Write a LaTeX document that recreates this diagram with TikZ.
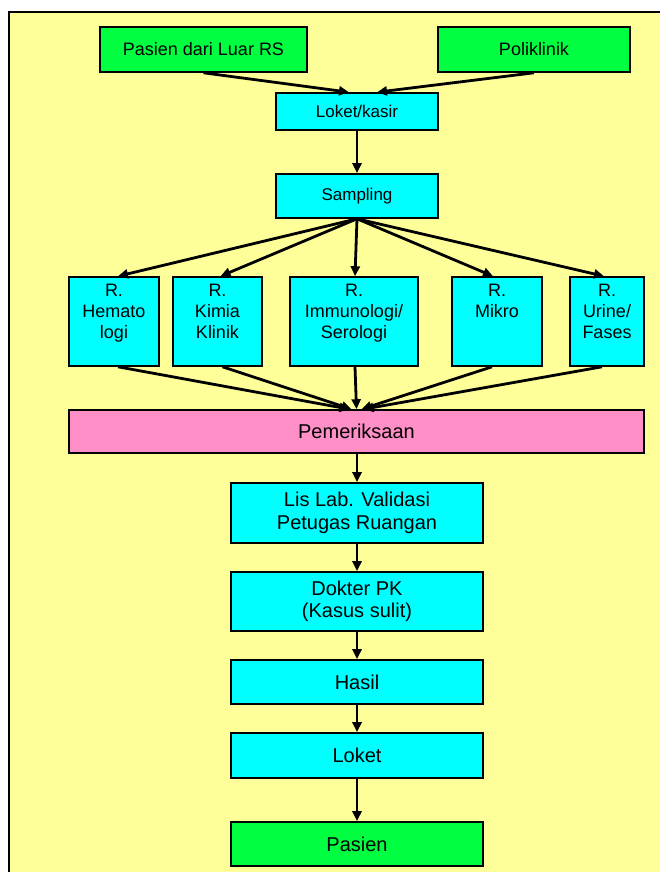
\documentclass[tikz,border=0pt]{standalone}
\usepackage{fontspec}
\setmainfont{Liberation Sans}
\usetikzlibrary{arrows.meta}
\definecolor{bgyel}{RGB}{255,255,153}
\definecolor{boxgreen}{RGB}{0,255,64}
\definecolor{boxcyan}{RGB}{0,255,255}
\definecolor{boxpink}{RGB}{255,143,199}
\begin{document}
\begin{tikzpicture}[x=1pt,y=-1pt,
  basebox/.style={draw=black, line width=1.6pt, inner sep=0pt, align=center},
  gbox/.style={basebox, fill=boxgreen},
  cbox/.style={basebox, fill=boxcyan},
  pbox/.style={basebox, fill=boxpink},
  smalltxt/.style={font=\fontsize{18}{21}\selectfont},
  midtxt/.style={font=\fontsize{17}{20}\selectfont},
  bigtxt/.style={font=\fontsize{20}{22.5}\selectfont},
  txt/.style={inner sep=0pt, align=center},
  flow/.style={line width=2.8pt, -{Triangle[length=10pt,width=9pt]}}]
\useasboundingbox (0,0) rectangle (660,872);
\fill[white] (0,0) rectangle (660,872);
\draw[fill=bgyel, line width=1.5pt] (9,12) rectangle (664,876);

% top sources
\node[gbox, smalltxt, minimum width=207, minimum height=45] (src1) at (203.5,49.5) {Pasien dari Luar RS};
\node[gbox, smalltxt, minimum width=192, minimum height=45] (src2) at (534,49.5) {Poliklinik};
\node[cbox, midtxt, minimum width=162, minimum height=37] (kasir) at (357,111.5) {Loket/kasir};
\node[cbox, midtxt, minimum width=162, minimum height=44] (samp) at (357,196) {Sampling};

% lab rooms
\node[cbox, minimum width=90, minimum height=89] (hem) at (114,321.5) {};
\node[cbox, minimum width=89, minimum height=89] (kim) at (217.5,321.5) {};
\node[cbox, minimum width=128, minimum height=89] (imm) at (354,321.5) {};
\node[cbox, minimum width=90, minimum height=89] (mik) at (497,321.5) {};
\node[cbox, minimum width=74, minimum height=89] (uri) at (607,321.5) {};
\node[txt, smalltxt, anchor=north] (hemt) at ([yshift=-8]hem.north) {R.\\Hemato\\logi};
\node[txt, smalltxt, anchor=north] (kimt) at ([yshift=-8]kim.north) {R.\\Kimia\\Klinik};
\node[txt, smalltxt, anchor=north] (immt) at ([yshift=-8]imm.north) {R.\\Immunologi/\\Serologi};
\node[txt, smalltxt, anchor=north] (mikt) at ([yshift=-8]mik.north) {R.\\Mikro};
\node[txt, smalltxt, anchor=north] (urit) at ([yshift=-8]uri.north) {R.\\Urine/\\Fases};

\node[pbox, bigtxt, minimum width=575, minimum height=43] (pem) at (356.5,431.5) {Pemeriksaan};

% lower chain
\node[cbox, bigtxt, minimum width=252, minimum height=60] (lis) at (357,513) {Lis Lab. Validasi\\Petugas Ruangan};
\node[cbox, bigtxt, minimum width=252, minimum height=59] (dok) at (357,601.5) {Dokter PK\\(Kasus sulit)};
\node[cbox, bigtxt, minimum width=252, minimum height=44] (has) at (357,682) {Hasil};
\node[cbox, bigtxt, minimum width=252, minimum height=45] (lok) at (357,755.5) {Loket};
\node[gbox, bigtxt, minimum width=252, minimum height=44] (pas) at (357,844) {Pasien};

% connectors
\draw[flow] (src1.south) -- ([xshift=-8]kasir.north);
\draw[flow] (src2.south) -- ([xshift=20]kasir.north);
\draw[flow] (kasir.south) -- (samp.north);
\draw[flow] (samp.south) -- ([xshift=4]hem.north);
\draw[flow] (samp.south) -- ([xshift=3]kim.north);
\draw[flow] (samp.south) -- ([xshift=1]imm.north);
\draw[flow] (samp.south) -- ([xshift=-4]mik.north);
\draw[flow] (samp.south) -- ([xshift=-3]uri.north);
\draw[flow] ([xshift=4]hem.south) -- ([xshift=-7]pem.north);
\draw[flow] ([xshift=5]kim.south) -- ([xshift=-5]pem.north);
\draw[flow] ([xshift=1]imm.south) -- ([xshift=0]pem.north);
\draw[flow] ([xshift=-5]mik.south) -- ([xshift=5]pem.north);
\draw[flow] ([xshift=-5]uri.south) -- ([xshift=7]pem.north);
\draw[flow] (pem.south -| lis.north) -- (lis.north);
\draw[flow] (lis.south) -- (dok.north);
\draw[flow] (dok.south) -- (has.north);
\draw[flow] (has.south) -- (lok.north);
\draw[flow] (lok.south) -- (pas.north);
\end{tikzpicture}
\end{document}
